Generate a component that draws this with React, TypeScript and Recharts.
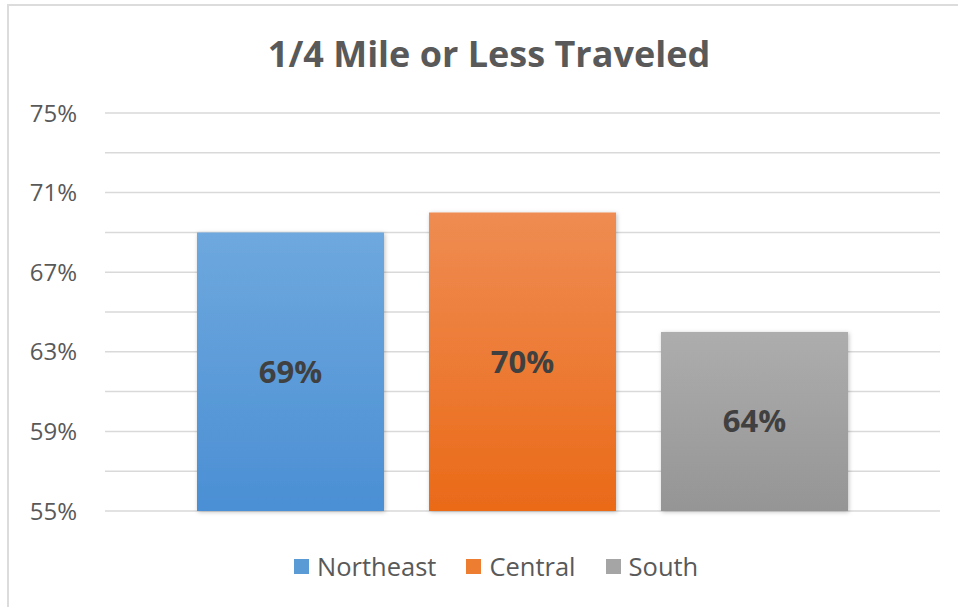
import React from 'react';
import { BarChart, Bar, XAxis, YAxis, CartesianGrid, LabelList, Legend } from 'recharts';

const seriesNames = ['Northeast', 'Central', 'South'];
const seriesValues = [69, 70, 64];
const yTicks = [55, 59, 63, 67, 71, 75];
const gridValues = [55, 57, 59, 61, 63, 65, 67, 69, 71, 73, 75];
const seriesColors = ['#5b9bd5', '#ed7d31', '#a5a5a5'];
const gradTop = ['#6ea8de', '#ef8c52', '#adadad'];
const gradBottom = ['#4b8fd4', '#ea6a18', '#959595'];
const title = '1/4 Mile or Less Traveled';

const row: Record<string, any> = { name: 'All' };
seriesNames.forEach((n, i) => {
  row[n] = seriesValues[i];
});
const data = [row];

const FONT = '"Open Sans", sans-serif';

const renderLegend = () => (
  <div style={{ display: 'flex', alignItems: 'center', fontFamily: FONT, fontSize: 25.5, lineHeight: '24px', color: '#595959', whiteSpace: 'nowrap' }}>
    {seriesNames.map((n, i) => (
      <div key={n} style={{ display: 'flex', alignItems: 'center', marginRight: i < seriesNames.length - 1 ? 30 : 0 }}>
        <span style={{ display: 'inline-block', width: 15, height: 15, background: seriesColors[i], marginRight: 8 }} />
        <span>{n}</span>
      </div>
    ))}
  </div>
);

export default function App() {
  return (
    <div style={{ position: 'absolute', left: 0, top: 0, width: 958, height: 607, background: '#fff', overflow: 'hidden' }}>
      <div style={{ position: 'absolute', left: 7, top: 4, width: 960, height: 610, borderTop: '2px solid #dcdcdc', borderLeft: '2px solid #dcdcdc' }} />
      <div style={{ position: 'absolute', left: 0, width: 978, top: 35, textAlign: 'center', fontFamily: FONT, fontWeight: 700, fontSize: 36, lineHeight: '37px', color: '#595959', whiteSpace: 'nowrap' }}>
        {title}
      </div>
      <BarChart
        width={958}
        height={607}
        data={data}
        margin={{ top: 113, right: 18, bottom: 96, left: 0 }}
        barCategoryGap={92}
        barGap={45}
        style={{ position: 'absolute', left: 0, top: 0 }}
      >
        <defs>
          {seriesNames.map((n, i) => (
            <linearGradient key={n} id={`grad${i}`} x1="0" y1="0" x2="0" y2="1">
              <stop offset="0%" stopColor={gradTop[i]} />
              <stop offset="100%" stopColor={gradBottom[i]} />
            </linearGradient>
          ))}
          <filter id="shadow" x="-10%" y="-10%" width="120%" height="120%">
            <feDropShadow dx="1" dy="1" stdDeviation="2" floodColor="#000" floodOpacity="0.25" />
          </filter>
        </defs>
        <CartesianGrid vertical={false} stroke="#d9d9d9" strokeWidth={1.5} horizontalValues={gridValues} />
        <XAxis dataKey="name" hide />
        <YAxis
          domain={[55, 75]}
          ticks={yTicks}
          tickFormatter={(v: number) => `${v}%`}
          axisLine={false}
          tickLine={false}
          tickSize={0}
          tickMargin={28}
          width={105}
          interval={0}
          tick={{ fill: '#595959', fontSize: 24, fontFamily: FONT }}
        />
        <Legend
          verticalAlign="middle"
          content={renderLegend}
          wrapperStyle={{ left: 294, top: 554, width: 'auto', height: 24 }}
        />
        {seriesNames.map((n, i) => (
          <Bar key={n} dataKey={n} fill={`url(#grad${i})`} isAnimationActive={false} style={{ filter: 'url(#shadow)' }}>
            <LabelList
              dataKey={n}
              position="center"
              formatter={(v: any) => `${v}%`}
              style={{ fill: '#404040', fontSize: 31, fontWeight: 700, fontFamily: FONT }}
            />
          </Bar>
        ))}
      </BarChart>
    </div>
  );
}
